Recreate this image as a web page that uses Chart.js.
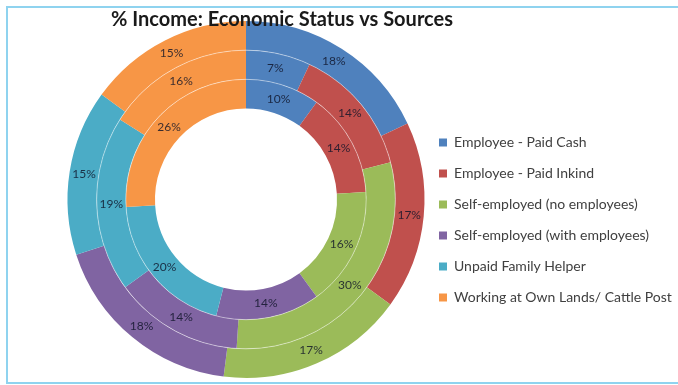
<!DOCTYPE html>
<html>
<head>
<meta charset="utf-8">
<script src="https://cdn.jsdelivr.net/npm/chart.js@4.4.1/dist/chart.umd.min.js"></script>
<style>
  body { margin: 0; background: #fff; }
  #frame { position: absolute; left: 6px; top: 6px; width: 700px; height: 374px;
           border: 2px solid #8fd3ef; border-right: none; }
  #income { position: absolute; left: 0; top: 0; }
</style>
</head>
<body>
<div id="frame"></div>
<canvas id="income" width="678" height="385"></canvas>
<script>
var chartTitle = '% Income: Economic Status vs Sources';
var sourceLabels = [
  'Employee - Paid Cash',
  'Employee - Paid Inkind',
  'Self-employed (no employees)',
  'Self-employed (with employees)',
  'Unpaid Family Helper',
  'Working at Own Lands/ Cattle Post'
];
// outer ring first, inner ring last
var outerValues = [18, 17, 17, 18, 15, 15];
var middleValues = [7, 14, 30, 14, 19, 16];
var innerValues = [10, 14, 16, 14, 20, 26];

var sourceColors = ['#4F81BD', '#C0504D', '#9BBB59', '#8064A2', '#4BACC6', '#F79646'];

function ring(values){
  return {
    data : values,
    backgroundColor : sourceColors,
    borderWidth : 0
  };
}

// faint circle where one ring meets the next
var ringSeams = {
  id: 'ringSeams',
  afterDatasetsDraw: function(chart){
    var ctx = chart.ctx;
    ctx.save();
    ctx.strokeStyle = 'rgba(255,255,255,0.45)';
    ctx.lineWidth = 1;
    for (var i = 1; i < chart.data.datasets.length; i++){
      var arc = chart.getDatasetMeta(i).data[0];
      ctx.beginPath();
      ctx.arc(arc.x, arc.y, arc.outerRadius, 0, Math.PI * 2);
      ctx.stroke();
    }
    ctx.restore();
  }
};

// percent label in the middle of every slice
var ringLabels = {
  id: 'ringLabels',
  afterDatasetsDraw: function(chart){
    var ctx = chart.ctx;
    ctx.save();
    ctx.font = '12px Lato';
    ctx.fillStyle = 'rgba(15,20,40,0.82)';
    ctx.textAlign = 'center';
    ctx.textBaseline = 'middle';
    chart.data.datasets.forEach(function(ds, i){
      chart.getDatasetMeta(i).data.forEach(function(arc, j){
        var p = arc.getCenterPoint();
        ctx.fillText(ds.data[j] + '%', p.x, p.y);
      });
    });
    ctx.restore();
  }
};

// title sits over the top of the rings
var overTitle = {
  id: 'overTitle',
  afterDraw: function(chart){
    var ctx = chart.ctx;
    ctx.save();
    ctx.font = 'bold 20px Lato';
    ctx.fillStyle = '#1a1a1a';
    ctx.textAlign = 'center';
    ctx.textBaseline = 'alphabetic';
    ctx.fillText(chartTitle, 282, 26);
    ctx.restore();
  }
};

// move the legend block down and let its text run to the canvas edge
var legendPlace = {
  id: 'legendPlace',
  afterLayout: function(chart){
    var lg = chart.legend;
    lg.left = 422;
    lg.right = chart.width;
    lg.top = 42;
    lg.bottom = 398;
  }
};

var ctx = document.getElementById('income').getContext('2d');
new Chart(ctx, {
  type: 'doughnut',
  data: {
    labels: sourceLabels,
    datasets: [ring(outerValues), ring(middleValues), ring(innerValues)]
  },
  options: {
    responsive: false,
    animation: false,
    cutout: '51%',
    layout: { padding: { top: 21, bottom: 7, left: 67, right: 53 } },
    plugins: {
      tooltip: { enabled: false },
      legend: {
        position: 'right',
        maxWidth: 200,
        labels: {
          boxWidth: 8,
          boxHeight: 8,
          padding: 17,
          color: '#404040',
          font: { family: 'Lato', size: 14 }
        }
      }
    }
  },
  plugins: [ringSeams, ringLabels, overTitle, legendPlace]
});
</script>
</body>
</html>
